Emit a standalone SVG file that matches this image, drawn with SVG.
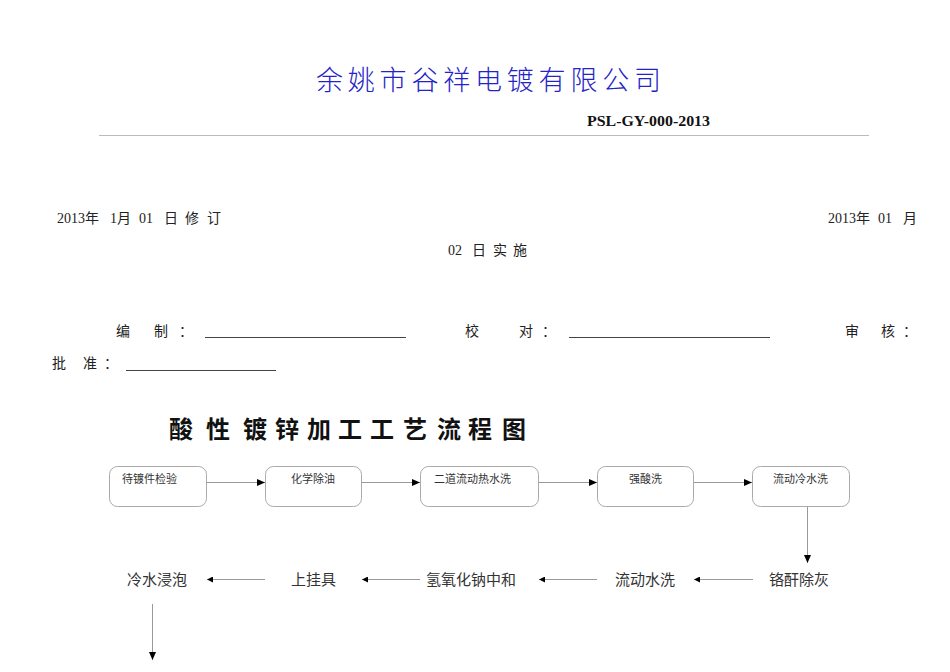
<svg xmlns="http://www.w3.org/2000/svg" width="950" height="672" viewBox="0 0 950 672">
<defs>
<style>
.cjk{font-family:"Liberation Serif","Noto Sans CJK SC",serif;fill:#222}
.hdr{font-size:14px}
.box{fill:#fff;stroke:#aaa;stroke-width:1}
.bt{font-family:"Noto Sans CJK SC",sans-serif;font-size:11px;fill:#333}
.rt{font-family:"Noto Sans CJK SC",sans-serif;font-size:15px;fill:#333}
.ln{stroke:#999;stroke-width:1;fill:none}
.ul{stroke:#444;stroke-width:1.2}
</style>
<marker id="ah" markerUnits="userSpaceOnUse" markerWidth="9" markerHeight="8" refX="8" refY="3.5" orient="auto">
<path d="M0,0 L8,3.5 L0,7 z" fill="#000"/>
</marker>
<marker id="ahs" markerUnits="userSpaceOnUse" markerWidth="7" markerHeight="6" refX="6" refY="3" orient="auto">
<path d="M0,0 L6,3 L0,6 z" fill="#000"/>
</marker>
</defs>
<rect width="950" height="672" fill="#fff"/>

<g id="header">
<text font-family="Noto Sans CJK SC,sans-serif" font-size="27" font-weight="300" fill="#2323c8" x="316 347.8 379.6 411.4 443.2 475 506.8 538.6 570.4 602.2 634" y="90">余姚市谷祥电镀有限公司</text>
<text x="587" y="126" font-family="Liberation Serif,serif" font-weight="bold" font-size="15" textLength="123" lengthAdjust="spacingAndGlyphs" fill="#111">PSL-GY-000-2013</text>
<line x1="99" y1="135.5" x2="869" y2="135.5" stroke="#bbb" stroke-width="1"/>
</g>

<g id="dates">
<text class="cjk hdr" y="223"><tspan x="57">2013年</tspan><tspan x="110">1月</tspan><tspan x="139">01</tspan><tspan x="164">日</tspan><tspan x="185">修</tspan><tspan x="207">订</tspan></text>
<text class="cjk hdr" y="223"><tspan x="828">2013年</tspan><tspan x="878">01</tspan><tspan x="903">月</tspan></text>
<text class="cjk hdr" y="255"><tspan x="448">02</tspan><tspan x="472">日</tspan><tspan x="493">实</tspan><tspan x="513">施</tspan></text>
</g>

<g id="signatures">
<text class="cjk hdr" y="336"><tspan x="116">编</tspan><tspan x="154">制</tspan><tspan x="179">：</tspan></text>
<line class="ul" x1="205" y1="337.5" x2="406" y2="337.5"/>
<text class="cjk hdr" y="336"><tspan x="465">校</tspan><tspan x="519">对</tspan><tspan x="542">：</tspan></text>
<line class="ul" x1="569" y1="337.5" x2="770" y2="337.5"/>
<text class="cjk hdr" y="336"><tspan x="845">审</tspan><tspan x="881">核</tspan><tspan x="903">：</tspan></text>
<text class="cjk hdr" y="368"><tspan x="52">批</tspan><tspan x="83">准</tspan><tspan x="104">：</tspan></text>
<line class="ul" x1="126" y1="370.5" x2="276" y2="370.5"/>
</g>

<g id="title">
<text font-family="Noto Sans CJK SC,sans-serif" font-size="24" font-weight="bold" fill="#111" x="169 206 243 275 307 338 370 403 437 468 502" y="438">酸性镀锌加工工艺流程图</text>
</g>

<g id="n1"><rect class="box" x="109.5" y="466.5" width="97" height="40" rx="8"/><text class="bt" x="122" y="483">待镀件检验</text></g>
<g id="n2"><rect class="box" x="265.5" y="466.5" width="96" height="40" rx="8"/><text class="bt" x="291" y="483">化学除油</text></g>
<g id="n3"><rect class="box" x="420.5" y="466.5" width="118" height="40" rx="8"/><text class="bt" x="434" y="483">二道流动热水洗</text></g>
<g id="n4"><rect class="box" x="597.5" y="466.5" width="96" height="40" rx="8"/><text class="bt" x="629" y="483">强酸洗</text></g>
<g id="n5"><rect class="box" x="752.5" y="466.5" width="97" height="40" rx="8"/><text class="bt" x="773" y="483">流动冷水洗</text></g>

<g id="n6"><text class="rt" x="769" y="585">铬酐除灰</text></g>
<g id="n7"><text class="rt" x="615" y="585">流动水洗</text></g>
<g id="n8"><text class="rt" x="426" y="585">氢氧化钠中和</text></g>
<g id="n9"><text class="rt" x="291" y="585">上挂具</text></g>
<g id="n10"><text class="rt" x="127" y="585">冷水浸泡</text></g>

<g id="connectors">
<line class="ln" x1="207" y1="482.5" x2="265" y2="482.5" marker-end="url(#ah)"/>
<line class="ln" x1="362" y1="482.5" x2="420" y2="482.5" marker-end="url(#ah)"/>
<line class="ln" x1="539" y1="482.5" x2="597" y2="482.5" marker-end="url(#ah)"/>
<line class="ln" x1="694" y1="482.5" x2="752" y2="482.5" marker-end="url(#ah)"/>
<line class="ln" x1="807.5" y1="507" x2="807.5" y2="563" marker-end="url(#ah)"/>
<line class="ln" x1="753" y1="579.5" x2="694" y2="579.5" marker-end="url(#ahs)"/>
<line class="ln" x1="597" y1="579.5" x2="539" y2="579.5" marker-end="url(#ahs)"/>
<line class="ln" x1="420" y1="579.5" x2="362" y2="579.5" marker-end="url(#ahs)"/>
<line class="ln" x1="265" y1="579.5" x2="207" y2="579.5" marker-end="url(#ahs)"/>
<line class="ln" x1="152.5" y1="604" x2="152.5" y2="660" marker-end="url(#ah)"/>
</g>
</svg>
